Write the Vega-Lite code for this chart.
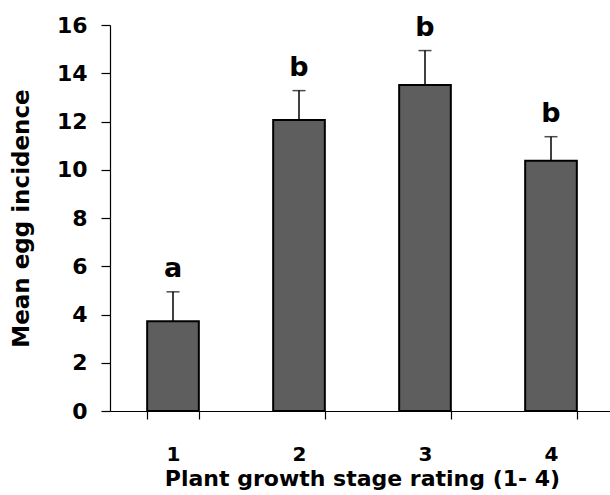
{
  "$schema": "https://vega.github.io/schema/vega-lite/v6.json",
  "width": 504,
  "height": 386,
  "autosize": "none",
  "padding": {"left": 110, "top": 25, "right": 0, "bottom": 84},
  "background": "white",
  "config": {
    "view": {"stroke": null},
    "font": "DejaVu Sans",
    "axis": {
      "labelFont": "DejaVu Sans", "titleFont": "DejaVu Sans",
      "labelFontWeight": "bold", "titleFontWeight": "bold",
      "labelColor": "black", "titleColor": "black",
      "domainColor": "black", "tickColor": "black",
      "domainWidth": 1.2, "tickWidth": 1.2, "grid": false
    }
  },
  "data": {"values": [
    {"stage": "1", "mean": 3.72, "upper": 4.94, "letter": "a"},
    {"stage": "2", "mean": 12.06, "upper": 13.28, "letter": "b"},
    {"stage": "3", "mean": 13.51, "upper": 14.94, "letter": "b"},
    {"stage": "4", "mean": 10.37, "upper": 11.37, "letter": "b"}
  ]},
  "encoding": {
    "x": {
      "field": "stage", "type": "ordinal",
      "scale": {"paddingInner": 0.59, "paddingOuter": 0.295},
      "axis": {
        "labelAngle": 0, "tickBand": "extent", "tickSize": 8,
        "labelFontSize": 20, "labelPadding": 25,
        "title": "Plant growth stage rating (1- 4)",
        "titleFontSize": 22, "titlePadding": 4
      }
    }
  },
  "layer": [
    {
      "mark": {"type": "bar", "fill": "#5e5e5e", "stroke": "black", "strokeWidth": 2},
      "encoding": {
        "y": {
          "field": "mean", "type": "quantitative",
          "scale": {"domain": [0, 16], "nice": false},
          "axis": {
            "values": [0, 2, 4, 6, 8, 10, 12, 14, 16],
            "tickSize": 9, "labelFontSize": 22, "labelPadding": 14,
            "title": "Mean egg incidence", "titleFontSize": 23, "titlePadding": 23
          }
        }
      }
    },
    {
      "mark": {"type": "rule", "color": "black", "strokeWidth": 1.5},
      "encoding": {
        "y": {"field": "mean", "type": "quantitative"},
        "y2": {"field": "upper"}
      }
    },
    {
      "mark": {"type": "tick", "color": "black", "thickness": 1.5, "size": 13},
      "encoding": {
        "y": {"field": "upper", "type": "quantitative"}
      }
    },
    {
      "mark": {"type": "text", "font": "DejaVu Sans", "fontWeight": "bold", "fontSize": 27, "color": "black", "baseline": "alphabetic", "dy": -15},
      "encoding": {
        "y": {"field": "upper", "type": "quantitative"},
        "text": {"field": "letter"}
      }
    }
  ]
}
